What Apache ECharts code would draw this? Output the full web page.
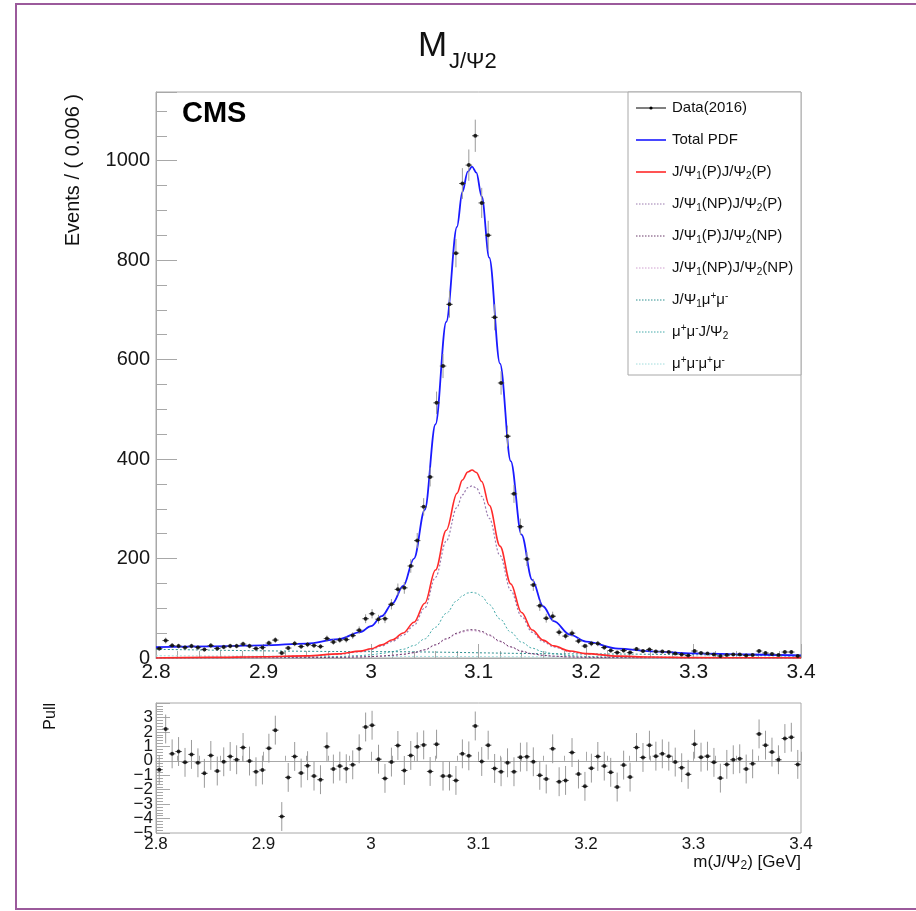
<!DOCTYPE html>
<html><head><meta charset="utf-8">
<script src="https://cdn.jsdelivr.net/npm/echarts@6/dist/echarts.min.js"></script>
<style>html,body{margin:0;padding:0;background:#fff}#c{width:916px;height:911px}</style>
</head><body><div id="c"></div>
<script>
// ---------- data ----------
const binLow = 2.8, binWidth = 0.006;
const counts = [19,35,25,24,21,24,21,17,25,19,
 22,24,24,28,24,19,21,30,36,10,
 20,29,23,27,25,23,39,32,36,37,
 45,56,79,89,78,79,108,138,141,185,
 236,304,364,513,587,711,814,954,991,1050,
 915,850,685,553,446,330,264,199,147,105,
 80,84,52,44,50,34,24,29,29,21,
 15,11,15,11,18,14,17,13,13,12,
 9,7,5,14,10,9,7,4,6,7,
 7,5,6,14,10,8,6,12,12,4];
const pulls = [-0.62,2.2,0.48,0.64,-0.11,0.44,-0.14,-0.87,0.37,-0.71,
 -0.07,0.3,0.07,0.92,-0.02,-0.76,-0.64,0.87,2.12,-3.86,
 -1.15,0.3,-0.85,-0.34,-1.06,-1.31,0.97,-0.57,-0.37,-0.55,
 -0.28,0.83,2.34,2.46,0.11,-1.22,-0.09,1.06,-0.67,0.37,
 0.97,1.1,-0.74,1.15,-1.06,-1.06,-1.36,0.48,0.34,2.41,
 -0.05,1.08,-0.53,-0.76,-0.14,-0.76,0.25,0.28,-0.07,-1.01,
 -1.26,0.83,-1.45,-1.36,0.57,-0.92,-1.77,-0.51,0.3,-0.37,
 -0.8,-1.82,-0.3,-1.13,0.92,0.23,1.08,0.32,0.48,0.32,
 -0.09,-0.48,-0.94,1.15,0.25,0.32,-0.11,-1.2,-0.25,0.07,
 0.14,-0.57,-0.21,1.86,1.08,0.6,0.07,1.54,1.63,-0.25];

const curveX = [2.80,2.85,2.90,2.94,2.97,2.99,3.00,3.01,3.02,3.03,3.04,3.05,3.06,3.07,3.08,3.085,3.09,3.094,3.098,3.103,3.11,3.12,3.13,3.14,3.15,3.16,3.17,3.185,3.20,3.23,3.26,3.30,3.35,3.40];
const totalPdf = [22,23.5,25.5,29,38,52,64,84,110,145,200,298,470,676,867,937,978,988,976,928,805,592,396,248,157,104,74,47,33,19,13.5,9.5,7,5];
const sigPP = [0,1.2,2.5,4.3,8.2,13.8,18.5,26.4,36.7,50.3,71.8,110,177,257,331,358,374,378,373,355,307,225,149,91.5,56.3,35.9,24.4,14.1,8.8,3.7,1.9,0.8,0.4,0.2];
const sigNPP = [0,1.1,2.3,3.9,7.5,12.6,17,24.2,33.6,46.1,65.7,100.7,162,235,303,328,342.5,346,342,325,281,206,136,83.7,51.6,32.9,22.3,12.9,8.1,3.4,1.7,0.8,0.35,0.17];
const sigPNP = [0,0.18,0.38,0.65,1.23,2.07,2.8,4.0,5.5,7.6,10.8,16.6,26.7,38.8,49.9,54,56.4,57,56.3,53.5,46.3,33.9,22.5,13.8,8.5,5.4,3.7,2.1,1.3,0.56,0.29,0.13,0.06,0.03];
const sigNPNP = [0,0.17,0.36,0.63,1.19,2.0,2.7,3.8,5.3,7.3,10.5,16,25.7,37.4,48.2,52.1,54.5,55,54.3,51.6,44.7,32.7,21.7,13.3,8.2,5.2,3.5,2.0,1.3,0.54,0.28,0.12,0.06,0.03];
const muMuPsi2 = [0,0.4,0.9,1.5,2.9,4.8,6.5,9.2,12.8,17.6,25.1,38.4,61.8,89.8,115.6,125.1,130.7,132,130.4,124,107.3,78.5,52,31.9,19.7,12.5,8.5,4.9,3.1,1.3,0.7,0.3,0.13,0.07];
const flatX = [2.8,3.0,3.2,3.4];
const psi1MuMu = [17.5,12.8,8.2,3.5];
const muMuMuMu = [4.5,3.3,2.2,1.0];

const xTicksMain = {min:2.8, max:3.4, interval:0.1};
const yMain = {min:0, max:1138, interval:200, minorInterval:50};
const yPull = {min:-5, max:4, interval:1};

// ---------- build ----------
const FONT = "'Liberation Sans', Arial, Helvetica, sans-serif";
const binCenters = counts.map((_, i) => +(binLow + (i + 0.5) * binWidth).toFixed(4));
const dataPts = counts.map((c, i) => [binCenters[i], c, Math.sqrt(c)]);
const pullPts = pulls.map((p, i) => [binCenters[i], p, 1]);
const pair = (xs, ys) => xs.map((x, i) => [x, ys[i]]);

function errRender(params, api) {
  const x = api.value(0), y = api.value(1), e = api.value(2);
  const pl = api.coord([x - binWidth / 2, y]);
  const pr = api.coord([x + binWidth / 2, y]);
  const pt = api.coord([x, y + e]);
  const pb = api.coord([x, y - e]);
  return {type: 'group', children: [
    {type: 'line', shape: {x1: pt[0], y1: pt[1], x2: pb[0], y2: pb[1]}, style: {stroke: '#9a9a9a', lineWidth: 1}},
    {type: 'line', shape: {x1: pl[0], y1: pl[1], x2: pr[0], y2: pr[1]}, style: {stroke: '#555', lineWidth: 1}}
  ]};
}

const COL = {
  total: '#1a1aff', pp: '#ff2a2a', npp: '#9a7aae', pnp: '#6a3a6a', npnp: '#d0a0d0',
  psimumu: '#2e9090', mumupsi: '#45aaaa', mumumumu: '#a0dcdc'
};
function lineSeries(name, data, color, width, dotted, z) {
  return {name, type: 'line', xAxisIndex: 0, yAxisIndex: 0, data, smooth: 0.35, smoothMonotone: 'x',
    symbol: 'none', showSymbol: false, z: z, silent: true,
    lineStyle: {color, width, type: dotted ? [2, 2] : 'solid'}};
}
const fmtX = v => String(+(+v).toFixed(1));
const fmtPull = v => (v < 0 ? '\u2212' + (-v) : String(v));
const axisGrey = '#a8a8a8';
const labelCol = '#161616';
const pullLabel = {fontSize: 17, fontFamily: FONT, color: labelCol, margin: 3};

const option = {
  animation: false,
  backgroundColor: '#fff',
  grid: [
    {left: 156, top: 92, width: 645, height: 566, show: true, borderColor: axisGrey, borderWidth: 1, backgroundColor: 'transparent'},
    {left: 156, top: 703, width: 645, height: 130, show: true, borderColor: axisGrey, borderWidth: 1, backgroundColor: 'transparent'}
  ],
  xAxis: [
    {type: 'value', gridIndex: 0, min: xTicksMain.min, max: xTicksMain.max, interval: xTicksMain.interval,
     axisLine: {show: true, lineStyle: {color: axisGrey}},
     axisTick: {show: true, inside: true, length: 14, lineStyle: {color: axisGrey}},
     minorTick: {show: true, splitNumber: 5, length: 7, lineStyle: {color: axisGrey}},
     splitLine: {show: false},
     axisLabel: {fontSize: 21, fontFamily: FONT, color: labelCol, margin: 4, formatter: fmtX}},
    {type: 'value', gridIndex: 1, min: xTicksMain.min, max: xTicksMain.max, interval: xTicksMain.interval,
     axisLine: {show: true, lineStyle: {color: axisGrey}},
     axisTick: {show: true, inside: true, length: 9, lineStyle: {color: axisGrey}},
     minorTick: {show: true, splitNumber: 5, length: 5, lineStyle: {color: axisGrey}},
     splitLine: {show: false},
     axisLabel: {fontSize: 17, fontFamily: FONT, color: labelCol, margin: 3, formatter: fmtX}}
  ],
  yAxis: [
    {type: 'value', gridIndex: 0, position: 'left', min: yMain.min, max: yMain.max, interval: yMain.interval,
     axisLine: {show: true, lineStyle: {color: axisGrey}},
     axisTick: {show: true, inside: true, length: 21, lineStyle: {color: axisGrey}},
     splitLine: {show: false},
     axisLabel: {fontSize: 20, fontFamily: FONT, color: labelCol, margin: 6,
       formatter: v => (Math.abs(v % yMain.interval) < 1e-6 ? String(v) : '')}},
    {type: 'value', gridIndex: 0, position: 'left', offset: 0, min: yMain.min, max: yMain.max, interval: yMain.minorInterval,
     axisLine: {show: false}, axisLabel: {show: false}, splitLine: {show: false},
     axisTick: {show: true, inside: true, length: 11, lineStyle: {color: axisGrey}}},
    {type: 'value', gridIndex: 1, position: 'left', min: yPull.min, max: yPull.max, interval: yPull.interval,
     axisLine: {show: true, lineStyle: {color: axisGrey}},
     axisTick: {show: true, inside: true, length: 14, lineStyle: {color: axisGrey}},
     minorTick: {show: true, splitNumber: 5, length: 7, lineStyle: {color: axisGrey}},
     splitLine: {show: false},
     axisLabel: Object.assign({showMinLabel: false, showMaxLabel: false, formatter: fmtPull}, pullLabel)},
    // carries only the bottom label of the pull axis
    {type: 'value', gridIndex: 1, position: 'left', offset: 0, min: yPull.min, max: yPull.max,
     interval: yPull.max - yPull.min,
     axisLine: {show: false}, axisTick: {show: false}, splitLine: {show: false},
     axisLabel: Object.assign({showMinLabel: true, showMaxLabel: false,
       formatter: v => (v === yPull.min ? fmtPull(v) : '')}, pullLabel)}
  ],
  series: [
    lineSeries('μ+μ-μ+μ-', pair(flatX, muMuMuMu), COL.mumumumu, 1, true, 2),
    lineSeries('μ+μ-J/Ψ2', pair(curveX, muMuPsi2), COL.mumupsi, 1, true, 2),
    lineSeries('J/Ψμ+μ-', pair(flatX, psi1MuMu), COL.psimumu, 1, true, 2),
    lineSeries('J/Ψ1(NP)J/Ψ2(NP)', pair(curveX, sigNPNP), COL.npnp, 1, true, 2),
    lineSeries('J/Ψ1(P)J/Ψ2(NP)', pair(curveX, sigPNP), COL.pnp, 1, true, 3),
    lineSeries('J/Ψ1(NP)J/Ψ2(P)', pair(curveX, sigNPP), COL.npp, 1.2, true, 3),
    lineSeries('J/Ψ1(P)J/Ψ2(P)', pair(curveX, sigPP), COL.pp, 1.6, false, 4),
    lineSeries('Total PDF', pair(curveX, totalPdf), COL.total, 1.8, false, 5),
    {name: 'Data err', type: 'custom', xAxisIndex: 0, yAxisIndex: 0, data: dataPts, renderItem: errRender, z: 6, silent: true},
    {name: 'Data(2016)', type: 'scatter', xAxisIndex: 0, yAxisIndex: 0, data: dataPts, symbolSize: 4,
     itemStyle: {color: '#000'}, z: 7, silent: true},
    {name: 'Pull err', type: 'custom', xAxisIndex: 1, yAxisIndex: 2, data: pullPts, renderItem: errRender, z: 6, silent: true},
    {name: 'Pull', type: 'scatter', xAxisIndex: 1, yAxisIndex: 2, data: pullPts, symbolSize: 4,
     itemStyle: {color: '#000'}, z: 7, silent: true}
  ],
  graphic: []
};

// ---------- texts and legend ----------
const g = option.graphic;
g.push({type: 'rect', z: 100, silent: true, shape: {x: 16, y: 4, width: 930, height: 905},
  style: {fill: 'none', stroke: '#9b5a9b', lineWidth: 2}});
g.push({type: 'text', z: 100, left: 418, top: 29, silent: true,
  style: {text: 'M', font: '35px ' + FONT, fill: '#111'}});
g.push({type: 'text', z: 100, left: 449, top: 51, silent: true,
  style: {text: 'J/Ψ2', font: '22px ' + FONT, fill: '#111'}});
g.push({type: 'text', z: 100, left: 182, top: 99, silent: true,
  style: {text: 'CMS', font: 'bold 29px ' + FONT, fill: '#000'}});
g.push({type: 'text', z: 100, x: 73, y: 94, rotation: Math.PI / 2, silent: true,
  style: {text: 'Events / ( 0.006 )', font: '20px ' + FONT, fill: '#111', align: 'right', verticalAlign: 'middle'}});
g.push({type: 'text', z: 100, x: 51, y: 703, rotation: Math.PI / 2, silent: true,
  style: {text: 'Pull', font: '16px ' + FONT, fill: '#111', align: 'right', verticalAlign: 'middle'}});
g.push({type: 'text', z: 100, x: 801, y: 862, silent: true,
  style: {text: 'm(J/Ψ{s|2}) [GeV]', font: '17px ' + FONT, fill: '#111', align: 'right', verticalAlign: 'middle',
    rich: {s: {font: '12px ' + FONT, fill: '#111', padding: [8, 0, 0, 0]}}}});

// legend box
g.push({type: 'rect', z: 50, silent: true, shape: {x: 628, y: 92, width: 173, height: 283},
  style: {fill: '#fff', stroke: axisGrey, lineWidth: 1}});
const legendItems = [
  {text: 'Data(2016)', color: '#000', width: 1, dotted: false, data: true},
  {text: 'Total PDF', color: COL.total, width: 1.6},
  {text: 'J/Ψ{s|1}(P)J/Ψ{s|2}(P)', color: COL.pp, width: 1.6},
  {text: 'J/Ψ{s|1}(NP)J/Ψ{s|2}(P)', color: COL.npp, width: 1, dotted: true},
  {text: 'J/Ψ{s|1}(P)J/Ψ{s|2}(NP)', color: COL.pnp, width: 1, dotted: true},
  {text: 'J/Ψ{s|1}(NP)J/Ψ{s|2}(NP)', color: COL.npnp, width: 1, dotted: true},
  {text: 'J/Ψ{s|1}μ{u|+}μ{u|-}', color: COL.psimumu, width: 1, dotted: true},
  {text: 'μ{u|+}μ{u|-}J/Ψ{s|2}', color: COL.mumupsi, width: 1, dotted: true},
  {text: 'μ{u|+}μ{u|-}μ{u|+}μ{u|-}', color: COL.mumumumu, width: 1, dotted: true}
];
const richLegend = {
  s: {font: '10px ' + FONT, fill: '#111', padding: [8, 0, 0, 0]},
  u: {font: '10px ' + FONT, fill: '#111', padding: [0, 0, 8, 0]}
};
legendItems.forEach((it, i) => {
  const y = 108 + i * 32;
  g.push({type: 'line', z: 51, silent: true, shape: {x1: 636, y1: y, x2: 666, y2: y},
    style: {stroke: it.color, lineWidth: it.width, lineDash: it.dotted ? [1.5, 1.5] : null}});
  if (it.data) {
    g.push({type: 'circle', z: 52, silent: true, shape: {cx: 651, cy: y, r: 1.6}, style: {fill: '#000'}});
  }
  g.push({type: 'text', z: 52, silent: true, x: 672, y: y,
    style: {text: it.text, font: '15px ' + FONT, fill: '#111', verticalAlign: 'middle', rich: richLegend}});
});

const chart = echarts.init(document.getElementById('c'), null, {renderer: 'canvas'});
chart.setOption(option);
</script>
</body></html>
